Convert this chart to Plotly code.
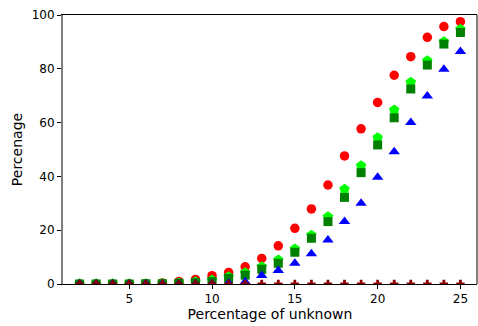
import plotly.graph_objects as go

x = list(range(2, 26))
red = [0, 0, 0, 0, 0.1, 0.4, 0.9, 1.7, 3.1, 4.3, 6.4, 9.5, 14.2, 20.7, 27.9, 36.8, 47.6, 57.7, 67.5, 77.6, 84.5, 91.7, 95.7, 97.5]
lime = [0.1, 0.1, 0.1, 0.1, 0.1, 0.2, 0.4, 0.8, 1.5, 2.7, 4.2, 6.4, 8.9, 13.0, 18.1, 25.0, 35.2, 44.0, 54.4, 64.7, 75.0, 83.0, 90.1, 94.7]
green = [0, 0, 0, 0, 0.1, 0.1, 0.3, 0.5, 0.9, 2.1, 3.3, 5.5, 7.7, 11.8, 17.0, 23.2, 32.2, 41.4, 51.7, 61.8, 72.5, 81.4, 89.2, 93.5]
blue = [0, 0, 0, 0, 0, 0, 0, 0, 0, 0.3, 0.8, 3.2, 5.0, 7.7, 11.2, 16.4, 23.2, 30.0, 39.7, 49.2, 60.0, 69.9, 79.8, 86.4]
darkred = [0] * 24

series = [
    (red, "circle", "#ff0000", 9.5),
    (lime, "pentagon", "#00ff00", 11),
    (green, "square", "#008000", 9),
    (blue, "triangle-up", "#0000ff", 10),
    (darkred, "cross", "#8b0000", 7),
]

fig = go.Figure()
for ys, sym, col, sz in series:
    fig.add_trace(go.Scatter(x=x, y=ys, mode="markers", cliponaxis=True,
                             marker=dict(symbol=sym, color=col, size=sz, line=dict(width=0)),
                             showlegend=False))

font = dict(family="DejaVu Sans", size=12, color="black")
fig.update_layout(
    width=478, height=326,
    margin=dict(l=63, r=1, t=15, b=42),
    paper_bgcolor="white", plot_bgcolor="white",
    font=font,
    xaxis=dict(range=[1, 26], tickvals=[5, 10, 15, 20, 25], showgrid=False, zeroline=False,
               showline=True, linecolor="black", linewidth=1, mirror=True,
               ticks="outside", ticklen=4, tickcolor="black",
               title=dict(text="Percentage of unknown", standoff=3)),
    yaxis=dict(range=[0, 100], tickvals=[0, 20, 40, 60, 80, 100], showgrid=False, zeroline=False,
               showline=True, linecolor="gray", linewidth=2,
               ticks="outside", ticklen=4, tickcolor="black",
               title=dict(text="Percenage", standoff=6)),
    shapes=[dict(type="line", xref="paper", yref="paper", x0=1, x1=1, y0=0, y1=1,
                 line=dict(color="black", width=1))],
)

fig.write_html("out.html")
